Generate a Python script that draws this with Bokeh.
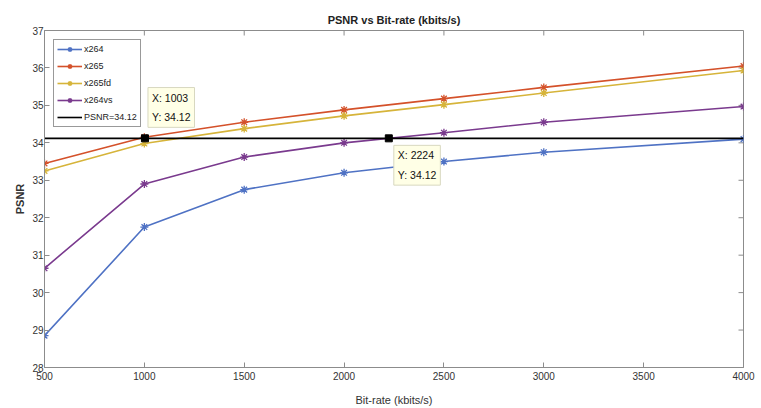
import math
from bokeh.plotting import figure
from bokeh.models import Legend, LegendItem, Label, Range1d, FixedTicker, ColumnDataSource
from bokeh.embed import file_html
from bokeh.resources import INLINE

bitrate = [500, 1000, 1500, 2000, 2500, 3000, 4000]
x264 = [28.85, 31.75, 32.75, 33.2, 33.5, 33.75, 34.1]
x265 = [33.45, 34.15, 34.55, 34.88, 35.18, 35.48, 36.05]
x265fd = [33.25, 33.98, 34.38, 34.72, 35.02, 35.33, 35.93]
x264vs = [30.65, 32.9, 33.62, 34.0, 34.27, 34.55, 34.97]
psnr_ref = 34.12
series_names = ["x264", "x265", "x265fd", "x264vs"]
colors = ["#4f72c4", "#d4512a", "#d6b43a", "#7a3a8e"]
tip_x = [1003, 2224]
tip_y = [34.12, 34.12]
x_ticks = [500, 1000, 1500, 2000, 2500, 3000, 3500, 4000]
y_ticks = [28, 29, 30, 31, 32, 33, 34, 35, 36, 37]
x_min, x_max = 500, 4000
y_min, y_max = 28, 37

FONT = "Liberation Sans"
AX = "#8c8c8c"

p = figure(width=761, height=408, output_backend="svg", toolbar_location=None,
           x_range=Range1d(x_min, x_max), y_range=Range1d(y_min, y_max),
           min_border_left=44, min_border_right=18, min_border_top=30, min_border_bottom=40,
           title="PSNR vs Bit-rate (kbits/s)")
p.title.align = "center"
p.title.text_font = FONT
p.title.text_font_size = "11px"
p.title.text_font_style = "bold"
p.title.text_color = "#222222"
p.title.standoff = 10
p.grid.visible = False
p.outline_line_color = AX
p.background_fill_color = "white"

for ax in [p.xaxis[0], p.yaxis[0]]:
    ax.major_tick_in = 5
    ax.major_tick_out = 0
    ax.minor_tick_in = 0
    ax.minor_tick_out = 0
    ax.axis_line_color = AX
    ax.major_tick_line_color = AX
    ax.major_label_text_font = FONT
    ax.major_label_text_font_size = "10px"
    ax.major_label_text_color = "#333333"
    ax.axis_label_text_font = FONT
    ax.axis_label_text_font_size = "11px"
    ax.axis_label_text_color = "#333333"
p.xaxis[0].ticker = FixedTicker(ticks=x_ticks)
p.yaxis[0].ticker = FixedTicker(ticks=y_ticks)
p.xaxis[0].axis_label = "Bit-rate (kbits/s)"
p.yaxis[0].axis_label = "PSNR"
p.xaxis[0].axis_label_text_font_style = "normal"
p.yaxis[0].axis_label_text_font_style = "bold"
p.xaxis[0].axis_label_standoff = 11
p.yaxis[0].axis_label_standoff = 3
p.xaxis[0].major_label_standoff = 4
p.yaxis[0].major_label_standoff = 1

# inward ticks on the top and right edges of the box
p.ray(x=x_ticks, y=[y_max] * len(x_ticks), angle=-math.pi / 2, length=5, length_units="screen",
      line_color=AX, line_width=1)
p.ray(x=[x_max] * len(y_ticks), y=y_ticks, angle=math.pi, length=5, length_units="screen",
      line_color=AX, line_width=1)

items = []
for name, vals, c in zip(series_names, [x264, x265, x265fd, x264vs], colors):
    src = ColumnDataSource(dict(x=bitrate, y=vals))
    l = p.line("x", "y", source=src, line_color=c, line_width=1.6)
    m = p.scatter("x", "y", source=src, marker="asterisk", size=8, line_color=c, line_width=1.3)
    items.append(LegendItem(label=name, renderers=[l, m]))

ref = p.line(x=[x_min, x_max], y=[psnr_ref, psnr_ref], line_color="black", line_width=1.6)
items.append(LegendItem(label="PSNR=34.12", renderers=[ref]))

p.scatter(x=tip_x, y=tip_y, marker="square", size=7, fill_color="black", line_color="black")

legend = Legend(items=items, location="top_left", label_text_font=FONT, label_text_font_size="9px",
                label_text_color="#222222", border_line_color="#333333", border_line_width=1,
                background_fill_color="white", background_fill_alpha=1.0,
                glyph_width=25, glyph_height=12, label_height=12, spacing=5, padding=3,
                margin=9, label_standoff=2)
p.add_layout(legend, "center")

tips = [
    (tip_x[0], tip_y[0], 3, 11, "bottom"),
    (tip_x[1], tip_y[1], 5, -7, "top"),
]
for tx, ty, xo, yo, base in tips:
    lab = Label(x=tx, y=ty, x_offset=xo, y_offset=yo, text=f"X: {tx}\nY: {ty:.2f}",
                text_font=FONT, text_font_size="10.5px", text_color="#111111",
                text_align="left", text_baseline=base, text_line_height=1.65,
                background_fill_color="#ffffe6", background_fill_alpha=1.0,
                border_line_color="#d8d8c0", padding=4)
    p.add_layout(lab)

open("out.html", "w").write(file_html(p, INLINE))
